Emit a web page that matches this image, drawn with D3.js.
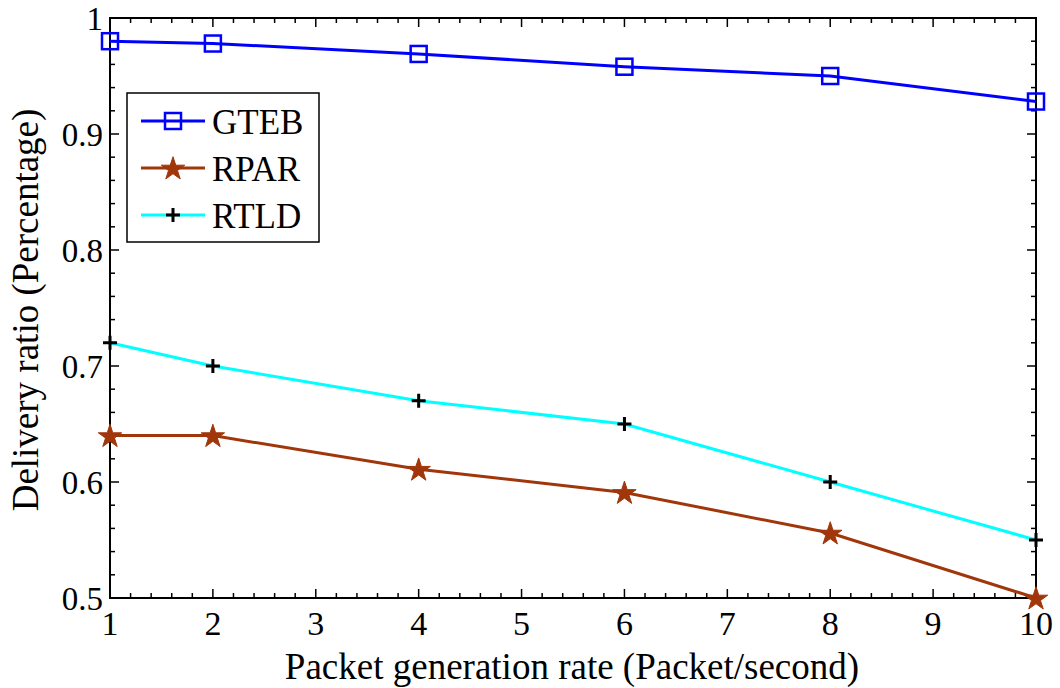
<!DOCTYPE html>
<html><head><meta charset="utf-8">
<script src="https://cdn.jsdelivr.net/npm/d3@7"></script>
<style>body{margin:0;background:#fff}svg{display:block}text{font-family:"Liberation Serif","Times New Roman",serif;fill:#000}</style>
</head><body><svg id="c" width="1060" height="688"></svg>
<script>
const xValues = [1, 2, 4, 6, 8, 10];
const gteb = [0.980, 0.978, 0.969, 0.958, 0.950, 0.928];
const rpar = [0.640, 0.640, 0.611, 0.591, 0.556, 0.500];
const rtld = [0.720, 0.700, 0.670, 0.650, 0.600, 0.550];
const xTicks = [1,2,3,4,5,6,7,8,9,10];
const yTicks = [0.5,0.6,0.7,0.8,0.9,1];
const seriesNames = ["GTEB","RPAR","RTLD"];

const svg = d3.select("#c");
const L=110, R=1036, T=18, B=598;
const x = d3.scaleLinear().domain([1,10]).range([L,R]);
const y = d3.scaleLinear().domain([0.5,1]).range([B,T]);

svg.append("rect").attr("x",L).attr("y",T).attr("width",R-L).attr("height",B-T)
  .attr("fill","none").attr("stroke","#000").attr("stroke-width",2);

const g = svg.append("g").attr("stroke","#000").attr("stroke-width",1.5);
d3.range(1,10.001,0.2).forEach(v=>{
  const major = Math.abs(v-Math.round(v))<1e-6;
  const len = major?9:5;
  g.append("line").attr("x1",x(v)).attr("x2",x(v)).attr("y1",B).attr("y2",B-len);
  g.append("line").attr("x1",x(v)).attr("x2",x(v)).attr("y1",T).attr("y2",T+len);
});
d3.range(0.5,1.0001,0.02).forEach(v=>{
  const major = Math.abs(v*10-Math.round(v*10))<1e-6;
  const len = major?9:5;
  g.append("line").attr("y1",y(v)).attr("y2",y(v)).attr("x1",L).attr("x2",L+len);
  g.append("line").attr("y1",y(v)).attr("y2",y(v)).attr("x1",R).attr("x2",R-len);
});

svg.append("g").selectAll("text").data(xTicks).join("text")
  .attr("x",d=>x(d)).attr("y",B+37)
  .attr("text-anchor","middle").attr("font-size",34).text(d=>d);
svg.append("g").selectAll("text").data(yTicks).join("text")
  .attr("x",L-7).attr("y",d=>y(d)+12)
  .attr("text-anchor","end").attr("font-size",33).text(d=>d===1?"1":d.toFixed(1));

svg.append("text").attr("x",572).attr("y",679).attr("text-anchor","middle")
  .attr("font-size",37).text("Packet generation rate (Packet/second)");
svg.append("text").attr("transform",`translate(38,310) rotate(-90)`)
  .attr("text-anchor","middle").attr("font-size",37).text("Delivery ratio (Percentage)");

const line = d3.line().x((d,i)=>x(xValues[i])).y(d=>y(d));
const colors = {GTEB:"#0000ff", RPAR:"#a0360a", RTLD:"#00ffff"};
const star = d3.symbol().type(d3.symbolStar).size(170);

function drawMarker(sel, name, cx, cy){
  if(name==="GTEB"){
    sel.append("rect").attr("x",cx-8).attr("y",cy-8).attr("width",16).attr("height",16)
      .attr("fill","none").attr("stroke",colors.GTEB).attr("stroke-width",2.5);
  } else if(name==="RPAR"){
    sel.append("path").attr("d",star()).attr("transform",`translate(${cx},${cy+1})`)
      .attr("fill",colors.RPAR).attr("stroke",colors.RPAR).attr("stroke-width",1);
  } else {
    sel.append("path").attr("d",`M${cx-7},${cy}H${cx+7}M${cx},${cy-7}V${cy+7}`)
      .attr("stroke","#000").attr("stroke-width",3);
  }
}

const data = {GTEB:gteb, RPAR:rpar, RTLD:rtld};
["RTLD","RPAR","GTEB"].forEach(name=>{
  svg.append("path").datum(data[name]).attr("d",line).attr("fill","none")
    .attr("stroke",colors[name]).attr("stroke-width",3);
  const mg = svg.append("g");
  data[name].forEach((v,i)=>drawMarker(mg,name,x(xValues[i]),y(v)));
});

const lg = svg.append("g");
lg.append("rect").attr("x",127).attr("y",93).attr("width",192).attr("height",149)
  .attr("fill","#fff").attr("stroke","#000").attr("stroke-width",1.5);
seriesNames.forEach((name,i)=>{
  const cy = 121 + i*47;
  lg.append("line").attr("x1",141).attr("x2",205).attr("y1",cy).attr("y2",cy)
    .attr("stroke",colors[name]).attr("stroke-width",3);
  drawMarker(lg,name,173,cy);
  lg.append("text").attr("x",212).attr("y",cy+13).attr("font-size",35).text(name);
});
</script></body></html>
